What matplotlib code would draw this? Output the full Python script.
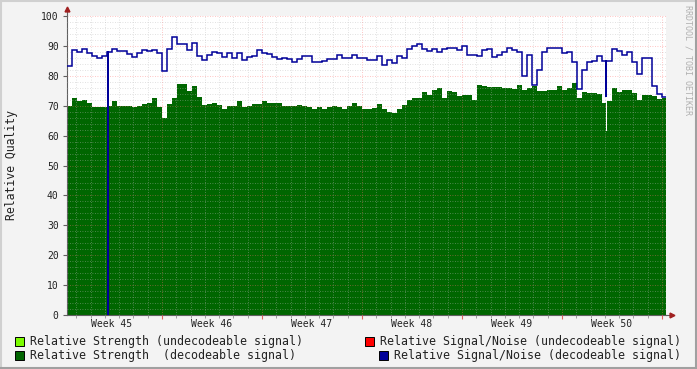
import numpy as np
import matplotlib
matplotlib.use("Agg")
import matplotlib.pyplot as plt
from matplotlib.patches import Rectangle
from matplotlib.lines import Line2D

plt.rcParams['font.family'] = ['DejaVu Sans Mono']

# one sample every 0.35 days (8.4 h), first sample starts 0.35 days into week 45
t_start = 0.35
t_step = 0.35

strength = [
    70, 72.5, 71.5, 72, 71, 69.5, 69.5, 69.5, 70, 71.5,
    70, 70, 70, 69.5, 70, 70.5, 71, 72.5, 69.5, 66,
    70.5, 72.5, 77.3, 77.3, 75, 76.5, 73, 70.2, 70.5, 71,
    70.2, 69, 70, 70, 71.5, 69.5, 70, 70.5, 70.5, 71.5,
    71, 71, 71, 70, 69.8, 69.8, 70.2, 69.8, 69.5, 68.8,
    69.5, 69, 69.5, 70, 69.5, 69, 70, 71, 69.8, 68.9,
    69, 69.2, 70.5, 69, 68, 67.6, 68.8, 70.2, 72, 72.5,
    72.5, 74.5, 73.5, 75.3, 75.8, 72.5, 75, 74.5, 73.3, 73.5,
    73.5, 72, 77, 76.5, 76.3, 76.3, 76.2, 76, 75.8, 75.5,
    77, 75.3, 76, 76.5, 75, 75, 75.3, 75.3, 76.5, 75.3,
    76, 77.5, 72.5, 74.5, 74.2, 74.2, 74, 71, 71.5, 76,
    74.5, 75.3, 75.3, 74.2, 72, 73.5, 73.5, 73.3, 72.3, 72.5,
]

snr = [
    83.2, 88.5, 88, 89, 87.5, 86.5, 85.8, 86.5, 88, 89,
    88.2, 88.2, 87.3, 86.3, 87.5, 88.5, 88.2, 88.5, 87.5, 81.5,
    89, 93, 90.5, 90.5, 88.5, 91, 86.5, 85.3, 86.9, 88,
    87.5, 86.3, 87.5, 86, 87.5, 85.3, 86.2, 86.5, 88.5, 87.5,
    87.3, 86.4, 85.5, 86, 85.5, 84.5, 85.5, 86.5, 86.7, 84.5,
    84.5, 85, 85.5, 85.5, 86.9, 86, 85.8, 86.8, 85.8, 86,
    85.3, 85.3, 86.5, 83.5, 85.3, 84.3, 86.5, 86, 88.8, 90,
    90.5, 88.8, 88.3, 89, 88, 88.8, 89.2, 89.2, 88.5, 90,
    87, 86.9, 86.5, 88.5, 89, 86.4, 87, 88, 89.2, 88.5,
    88, 80, 87, 77, 82, 88, 89.2, 89.2, 89.2, 87.5,
    88, 84.5, 75.5, 82, 84.5, 85, 86.5, 85, 85, 89,
    88.2, 86.9, 88, 84.5, 80.5, 86, 86, 76.5, 74, 73,
]

# short drop-outs (day, value)
snr_dips = [(3.19, 0.0), (38.06, 73.0)]
strength_dips = [(38.08, 61.5)]

week_names = ['Week 45', 'Week 46', 'Week 47', 'Week 48', 'Week 49', 'Week 50']

legend_entries = [
    ('Relative Strength (undecodeable signal)', '#7CFC00'),
    ('Relative Signal/Noise (undecodeable signal)', '#FF0000'),
    ('Relative Strength  (decodeable signal)', '#006400'),
    ('Relative Signal/Noise (decodeable signal)', '#000099'),
]


def add_dips(edges, vals, dips, width=0.07):
    e = list(edges)
    v = list(vals)
    for t, val in dips:
        k = int(np.searchsorted(e, t)) - 1
        base = v[k]
        e[k + 1:k + 1] = [t, t + width]
        v[k + 1:k + 1] = [val, base]
    return np.array(e), np.array(v)


edges = t_start + t_step * np.arange(len(strength) + 1)
g_edges, g_vals = add_dips(edges, strength, strength_dips)
b_edges, b_vals = add_dips(edges, snr, snr_dips, width=0.05)

fig = plt.figure(figsize=(6.97, 3.69), dpi=100, facecolor='#F3F3F3')
ax = fig.add_axes([67 / 697, 54 / 369, 599 / 697, 299 / 369])
ax.set_facecolor('white')

ax.stairs(g_vals, g_edges, fill=True, baseline=0, color='#006600', zorder=1)
ax.stairs(b_vals, b_edges, baseline=None, color='#000099', lw=1.1, zorder=3)

ax.set_xlim(0.35, 42.28)
ax.set_ylim(0, 100)

ax.set_xticks(np.arange(7, 43, 7))
ax.set_xticks(np.arange(1, 43, 1), minor=True)
ax.set_xticklabels([])
ax.set_yticks(np.arange(0, 101, 10))
ax.set_yticks(np.arange(0, 101, 2), minor=True)

ax.set_axisbelow(False)
ax.grid(which='minor', color='#B8B8B8', linestyle=(0, (1, 2)), lw=0.6, alpha=0.55)
ax.grid(which='major', color='#FF7070', linestyle=(0, (1, 2)), lw=0.6, alpha=0.55)

ax.tick_params(axis='y', which='major', length=3, width=0.8, color='#606060',
               labelsize=7, pad=3, labelcolor='#222222')
ax.tick_params(axis='y', which='minor', length=0)
ax.tick_params(axis='x', which='major', length=3, width=0.8, color='#E06060')
ax.tick_params(axis='x', which='minor', length=2, width=0.6, color='#909090')

for i, name in enumerate(week_names):
    ax.text(3.5 + 7 * i, -0.015, name, transform=ax.get_xaxis_transform(),
            ha='center', va='top', fontsize=7, color='#222222')

for s in ['top', 'right']:
    ax.spines[s].set_visible(False)
for s in ['left', 'bottom']:
    ax.spines[s].set_color('#606060')
    ax.spines[s].set_linewidth(0.8)

# axis extensions and arrow heads
ax.add_line(Line2D([0, 0], [1, 1.02], transform=ax.transAxes, color='#606060',
                   lw=0.8, clip_on=False))
ax.add_line(Line2D([1, 1.008], [0, 0], transform=ax.transAxes, color='#606060',
                   lw=0.8, clip_on=False))
ax.plot([0], [1.022], marker='^', ms=3.5, color='#A02020', transform=ax.transAxes,
        clip_on=False)
ax.plot([1.01], [0], marker='>', ms=3.5, color='#A02020', transform=ax.transAxes,
        clip_on=False)

fig.text(12 / 697, 1 - 165 / 369, 'Relative Quality', rotation=90, ha='center',
         va='center', fontsize=8.3, color='#222222')
fig.text(688 / 697, 1 - 60 / 369, 'RRDTOOL / TOBI OETIKER', rotation=270,
         ha='center', va='center', fontsize=6, color='#B0B0B0')

# legend
box = 9
rows = [341, 355]
positions = [(15, rows[0]), (365, rows[0]), (15, rows[1]), (379, rows[1])]
for (label, col), (x, y) in zip(legend_entries, positions):
    fig.patches.append(Rectangle((x / 697, 1 - (y + box / 2) / 369), box / 697,
                                 box / 369, transform=fig.transFigure,
                                 facecolor=col, edgecolor='black', lw=0.7))
    fig.text((x + 15) / 697, 1 - y / 369, label, ha='left', va='center',
             fontsize=8.4, color='#222222')

# frame
fig.add_artist(Line2D([0, 1], [1 - 1 / 369, 1 - 1 / 369], transform=fig.transFigure,
                      color='#D0D0D0', lw=1.5))
fig.add_artist(Line2D([1 / 697, 1 / 697], [0, 1], transform=fig.transFigure,
                      color='#D0D0D0', lw=1.5))
fig.add_artist(Line2D([0, 1], [1 / 369, 1 / 369], transform=fig.transFigure,
                      color='#A0A0A0', lw=1.5))
fig.add_artist(Line2D([1 - 1 / 697, 1 - 1 / 697], [0, 1], transform=fig.transFigure,
                      color='#A0A0A0', lw=1.5))

fig.savefig('out.png', dpi=100, facecolor=fig.get_facecolor())
